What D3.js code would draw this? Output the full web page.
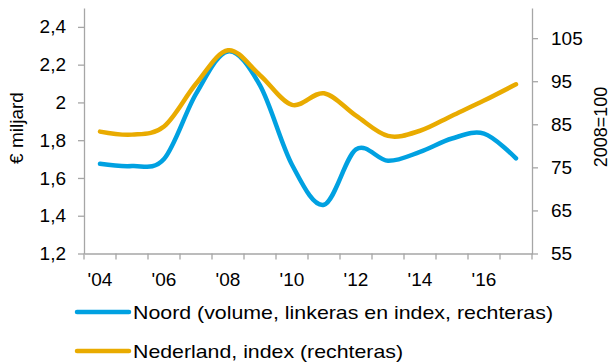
<!DOCTYPE html>
<html>
<head>
<meta charset="utf-8">
<script src="https://cdn.jsdelivr.net/npm/d3@7"></script>
<style>
  body { margin: 0; background: #fff; }
  text { font-family: "Liberation Sans", Arial, sans-serif; fill: #000; }
</style>
</head>
<body>
<div id="chart"></div>
<script>
// data
var years = [2004, 2005, 2006, 2007, 2008, 2009, 2010, 2011, 2012, 2013, 2014, 2015, 2016, 2017];
var noordVolume = [1.675, 1.663, 1.70, 2.045, 2.27, 2.09, 1.67, 1.458, 1.751, 1.691, 1.738, 1.809, 1.835, 1.704];
var nederlandIndex = [83.3, 82.6, 84.5, 94.4, 102.2, 96.4, 89.5, 92.2, 87.0, 82.3, 83.5, 87.0, 90.5, 94.3];
var leftTicks = [1.2, 1.4, 1.6, 1.8, 2.0, 2.2, 2.4];
var rightTicks = [55, 65, 75, 85, 95, 105];
var yearLabels = ["'04", "'06", "'08", "'10", "'12", "'14", "'16"];
var legendLabels = ["Noord (volume, linkeras en index, rechteras)", "Nederland, index (rechteras)"];
var legendWidths = [420, 270];

var width = 612, height = 362;
var margin = {top: 8, left: 84, right: 80, bottom: 108.5};
var plotW = width - margin.left - margin.right,
    plotH = height - margin.top - margin.bottom;

var blue = '#00A1E1', yellow = '#E9AB00', axisColor = '#A6A6A6';
var fontSize = "19px";

var svg = d3.select("#chart").append("svg")
  .attr("width", width)
  .attr("height", height);

var g = svg.append("g")
  .attr("transform", "translate(" + margin.left + "," + margin.top + ")");

var xScale = d3.scaleBand()
  .domain(years)
  .range([0, plotW]);

var yLeft = d3.scaleLinear()
  .domain([1.2, 2.5])
  .range([plotH, 0]);

var yRight = d3.scaleLinear()
  .domain([55, 112])
  .range([plotH, 0]);

var fmt = function(d) { return d3.format(".1f")(d).replace(/\.0$/, '').replace('.', ','); };

var xAxis = d3.axisBottom(xScale)
  .tickValues([])
  .tickSizeOuter(0);

var leftAxis = d3.axisLeft(yLeft)
  .tickValues(leftTicks)
  .tickSize(6)
  .tickSizeOuter(0)
  .tickPadding(12)
  .tickFormat(fmt);

var rightAxis = d3.axisRight(yRight)
  .tickValues(rightTicks)
  .tickSize(6)
  .tickSizeOuter(0)
  .tickPadding(13);

// x axis baseline + year boundary ticks
var xg = g.append("g")
  .attr("class", "x axis")
  .attr("transform", "translate(0," + plotH + ")")
  .call(xAxis);

xg.selectAll(".bound")
  .data(years.concat([null]))
  .enter().append("line")
    .attr("class", "bound")
    .attr("x1", function(d, i) { return i * xScale.step(); })
    .attr("x2", function(d, i) { return i * xScale.step(); })
    .attr("y1", 0)
    .attr("y2", 6)
    .attr("stroke", axisColor);

xg.selectAll(".yl")
  .data(yearLabels)
  .enter().append("text")
    .attr("class", "yl")
    .attr("x", function(d, i) { return xScale(years[i * 2]) + xScale.bandwidth() / 2; })
    .attr("y", 32)
    .attr("text-anchor", "middle")
    .style("font-size", fontSize)
    .text(function(d) { return d; });

g.append("g")
  .attr("class", "y axis")
  .call(leftAxis);

g.append("g")
  .attr("class", "y2 axis")
  .attr("transform", "translate(" + plotW + ",0)")
  .call(rightAxis);

g.selectAll(".axis path, .axis line")
  .attr("stroke", axisColor)
  .attr("stroke-width", 1.3);

g.selectAll(".axis .tick text")
  .style("font-size", fontSize)
  .attr("fill", "#000");

// axis titles
svg.append("text")
  .attr("transform", "translate(23,128) rotate(-90)")
  .attr("text-anchor", "middle")
  .style("font-size", fontSize)
  .text("€ miljard");

svg.append("text")
  .attr("transform", "translate(607,127) rotate(-90)")
  .attr("text-anchor", "middle")
  .style("font-size", "18px")
  .text("2008=100");

var cx = function(d, i) { return xScale(years[i]) + xScale.bandwidth() / 2; };

var lineLeft = d3.line()
  .x(cx)
  .y(function(d) { return yLeft(d); })
  .curve(d3.curveCardinal.tension(0));

var lineRight = d3.line()
  .x(cx)
  .y(function(d) { return yRight(d); })
  .curve(d3.curveCardinal.tension(0));

g.append("path")
  .datum(noordVolume)
  .attr("d", lineLeft)
  .attr("fill", "none")
  .attr("stroke", blue)
  .attr("stroke-width", 4.5)
  .attr("stroke-linecap", "round");

g.append("path")
  .datum(nederlandIndex)
  .attr("d", lineRight)
  .attr("fill", "none")
  .attr("stroke", yellow)
  .attr("stroke-width", 4.5)
  .attr("stroke-linecap", "round");

// legend
var legend = svg.selectAll(".legend")
  .data(legendLabels)
  .enter().append("g")
    .attr("class", "legend")
    .attr("transform", function(d, i) { return "translate(0," + (312 + i * 39) + ")"; });

legend.append("line")
  .attr("x1", 77)
  .attr("x2", 129)
  .attr("stroke", function(d, i) { return i == 0 ? blue : yellow; })
  .attr("stroke-width", 4.5)
  .attr("stroke-linecap", "round");

legend.append("text")
  .attr("x", 133)
  .attr("dy", "0.35em")
  .attr("textLength", function(d, i) { return legendWidths[i]; })
  .attr("lengthAdjust", "spacingAndGlyphs")
  .style("font-size", fontSize)
  .text(function(d) { return d; });
</script>
</body>
</html>
